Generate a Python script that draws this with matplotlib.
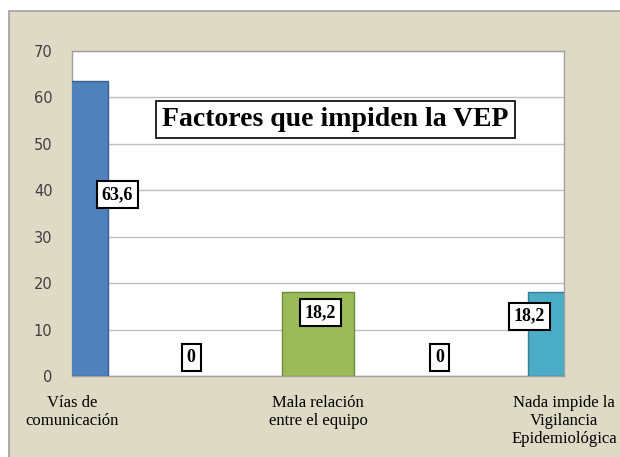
import numpy as np
from matplotlib import pyplot as plt
import matplotlib.patches as patches

# datos
categorias = ['Vías de\ncomunicación', '', 'Mala relación\nentre el equipo', '',
              'Nada impide la\nVigilancia\nEpidemiológica']
valores = [63.6, 0, 18.2, 0, 18.2]
etiquetas = ['63,6', '0', '18,2', '0', '18,2']
colores = ['#4F81BD', '#C0504D', '#9BBB59', '#8064A2', '#4BACC6']
bordes = ['#3A5F8B', '#8C3836', '#71893F', '#5C4776', '#357D91']

# posicion de las etiquetas (desplazamiento en x, altura en y)
etq_dx = [0.37, -0.03, 0.02, -0.01, -0.28]
etq_y = [39, 3.9, 13.6, 3.9, 12.9]

serif = ['Liberation Serif', 'DejaVu Serif']

fig = plt.figure(figsize=(6.2, 4.57), dpi=100, facecolor='white')

# fondo del grafico
fondo = patches.Rectangle((9 / 620, -0.1), 1.1, 1.1 - 11 / 457,
                          transform=fig.transFigure, facecolor='#DEDAC6',
                          edgecolor='#A0A0A0', linewidth=1.2, zorder=-10)
fig.patches.append(fondo)

ax = fig.add_axes([72 / 620, 1 - 376 / 457, 492 / 620, 325 / 457])
ax.set_facecolor('white')

x = np.arange(len(valores))
anchos_borde = [1.0 if v > 0 else 0 for v in valores]
ax.bar(x, valores, width=0.58, color=colores, edgecolor=bordes,
       linewidth=anchos_borde, zorder=3)

for xi, dx, yi, txt in zip(x, etq_dx, etq_y, etiquetas):
    ax.text(xi + dx, yi, txt, ha='center', va='center', fontsize=13,
            fontweight='bold', family=serif, zorder=5,
            bbox=dict(boxstyle='square,pad=0.28', facecolor='white',
                      edgecolor='black', linewidth=1.5))

ax.text(0.535, 0.79, 'Factores que impiden la VEP', transform=ax.transAxes,
        ha='center', va='center', fontsize=20, fontweight='bold',
        family=serif, zorder=6,
        bbox=dict(boxstyle='square,pad=0.22', facecolor='white',
                  edgecolor='black', linewidth=1.2))

ax.set_xlim(0, 4)
ax.set_ylim(0, 70)
ax.set_yticks(range(0, 71, 10))
ax.set_xticks(x)
ax.set_xticklabels(categorias, family=serif, fontsize=12,
                   linespacing=1.15)
ax.tick_params(axis='x', length=0, pad=14)
ax.tick_params(axis='y', length=0, pad=14, labelsize=10.5, labelcolor='#404040')
ax.yaxis.grid(True, color='#BEBEBE', linewidth=1.0, zorder=0)
ax.set_axisbelow(True)
for s in ax.spines.values():
    s.set_color('#A0A0A0')
    s.set_linewidth(1.0)

plt.savefig('out.png', dpi=100, facecolor=fig.get_facecolor())
